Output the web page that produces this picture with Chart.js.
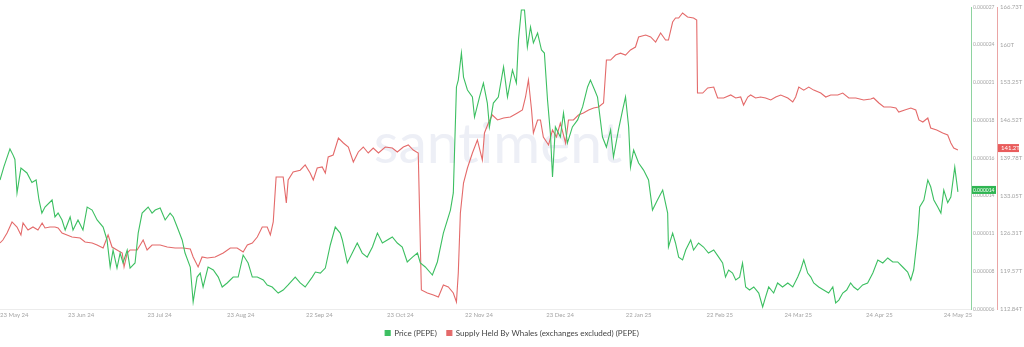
<!DOCTYPE html>
<html lang="en">
<head>
    <meta charset="UTF-8">
    <title>PEPE Price vs Whale Supply</title>
    <script src="https://cdn.jsdelivr.net/npm/chart.js"></script>
    <style>
        body { margin: 0; background: #fff; }
        #wrap { width: 1024px; height: 347px; }
    </style>
</head>
<body>
<div id="wrap"><canvas id="chart" width="1024" height="347"></canvas></div>
<script>
// x = days since 23 May 24
const xTickDays = [0, 31, 61, 92, 122, 153, 183, 214, 244, 275, 305, 336, 366, 371];
const xTickLabels = ['23 May 24', '23 Jun 24', '23 Jul 24', '23 Aug 24', '22 Sep 24', '23 Oct 24', '22 Nov 24',
    '23 Dec 24', '22 Jan 25', '22 Feb 25', '24 Mar 25', '24 Apr 25', '24 May 25', ''];

// price in millionths of a dollar (1.0 = 0.000001)
const priceDays = [0, 1.5, 3.8, 5, 5.7, 6.5, 8, 10.3, 12.2, 13.8, 14.9, 16, 17.2, 19.9, 21, 22.2, 23.7, 24.9, 26.8, 27.9,
    29.8, 31.7, 33.3, 35.2, 37.1, 39.4, 40.9, 42.1, 43.2, 44.7, 45.9, 47, 48.6, 49.7, 51.6, 52.8, 54.3, 56.6, 58.1, 59.3,
    61.2, 63.1, 65, 66.2, 67.7, 69.6, 70.7, 72.7, 73.8, 75.3, 76.5, 77.6, 79.5, 81.5, 83.4, 84.9, 86.8, 89.1, 91, 92.9,
    94.8, 96.4, 98.3, 100.6, 102.1, 104, 106.3, 108.2, 110.1, 112.8, 114.7, 116.6, 119.3, 120.5, 122.4, 124.3, 126.2, 128.1, 130, 130.8,
    132.7, 134.6, 136.5, 138.4, 140.3, 142.3, 144.2, 146.1, 148, 149.9, 151.8, 153.7, 155.6, 157.6, 159.5, 160.6, 162.5, 165.2, 167.1, 169.4,
    172.1, 173.2, 174.4, 175.1, 176.3, 177.1, 178.6, 180.5, 181.3, 183.2, 184.7, 186.2, 187, 188.5, 190.4, 192.4, 193.9, 195.8, 197.3, 198.1,
    199.2, 200.4, 201.5, 202.7, 203.8, 205.4, 206.9, 208, 209.2, 210.3, 211.1, 212.2, 214.1, 215.3, 216.8, 218.7, 220.7, 222.6, 224.5, 225.6,
    227.2, 228.3, 230.2, 231.7, 233.3, 234.4, 236.3, 237.9, 239, 240.2, 240.9, 242.1, 244, 245.9, 247.8, 249.3, 251.2, 253.2, 255.1, 255.4,
    257, 258.1, 259.3, 260.8, 262, 263.9, 265, 266.9, 268.8, 270.7, 272.7, 274.6, 276.1, 277.2, 278.4, 279.9, 281.1, 282.6, 283.7, 284.9,
    286.4, 288, 289.9, 291.4, 292.5, 293.7, 295.6, 297.1, 299, 301, 302.9, 304.8, 305.9, 307.1, 308.6, 309.8, 310.9, 312.8, 314.7, 316.6,
    318.2, 319.3, 320.5, 322, 323.5, 325, 326.2, 327.7, 329.6, 331.5, 333.5, 335.4, 337.3, 339.2, 341.1, 343, 344.9, 346.8, 348, 349.1,
    350.7, 351.4, 353, 354.5, 355.6, 356.8, 358.3, 359.5, 360.6, 362.1, 363.3, 364.8, 366];
const price = [14.77, 15.7, 16.93, 16.5, 16.2, 13.87, 15.6, 15.26, 14.6, 14.77, 13.38, 12.47, 12.89, 13.38, 12.2, 12.47, 11.99, 11.29, 12.2, 11.29,
    11.99, 11.29, 12.89, 12.68, 11.99, 11.5, 10.6, 8.72, 9.9, 8.65, 9.69, 9.0, 9.9, 8.65, 9.0, 11.08, 12.47, 12.89, 12.47, 12.68,
    12.82, 11.99, 12.47, 12.2, 11.5, 10.6, 9.69, 8.72, 6.29, 8.02, 8.3, 7.33, 8.72, 8.51, 8.02, 7.33, 7.61, 8.02, 8.02, 9.55,
    9.0, 8.02, 8.02, 7.82, 7.47, 7.33, 6.91, 7.12, 7.47, 8.02, 7.61, 7.33, 8.02, 8.37, 8.3, 8.65, 10.25, 11.5, 11.08, 10.6,
    9.0, 9.69, 10.39, 9.69, 9.41, 10.11, 11.08, 10.39, 10.6, 10.81, 10.39, 10.11, 9.07, 9.41, 9.69, 9.0, 8.72, 8.16, 9.07, 11.08,
    12.68, 13.87, 21.24, 21.72, 23.6, 21.93, 21.03, 20.54, 19.15, 20.54, 21.51, 20.12, 18.46, 20.12, 20.54, 22.63, 20.54, 22.42, 21.51, 24.51,
    26.59, 26.59, 24.02, 25.41, 24.3, 24.99, 23.81, 23.6, 20.33, 18.0, 14.98, 18.46, 17.76, 19.43, 17.34, 18.46, 18.95, 19.85, 21.24, 21.72,
    21.03, 20.54, 17.76, 17.06, 18.25, 16.37, 18.25, 19.64, 20.54, 18.46, 15.67, 16.86, 15.95, 15.46, 14.77, 12.68, 13.38, 14.07, 12.47, 10.11,
    11.08, 10.39, 9.41, 9.21, 9.9, 10.6, 9.9, 10.39, 10.11, 9.69, 9.9, 9.41, 9.0, 8.02, 8.51, 8.3, 7.82, 8.02, 9.0, 7.33,
    7.12, 7.33, 6.91, 5.94, 6.63, 7.33, 6.91, 7.61, 7.33, 7.61, 7.33, 8.02, 8.51, 9.21, 8.3, 8.02, 7.61, 7.33, 7.12, 6.91,
    7.33, 6.22, 6.42, 6.91, 7.12, 7.61, 7.33, 7.12, 7.47, 7.61, 8.3, 9.21, 9.0, 9.35, 9.07, 9.07, 8.72, 8.37, 7.82, 8.51,
    11.08, 12.89, 13.38, 14.77, 14.3, 13.38, 12.89, 12.47, 14.07, 13.2, 13.59, 15.67, 13.94];

// supply held by whales, trillions of PEPE
const supplyDays = [0, 1.1, 2.7, 4.6, 6.5, 8, 8.8, 10.7, 12.6, 14.5, 16.1, 17.2, 19.1, 21, 22.2, 23.7, 25.6, 27.5, 30.6, 32.5,
    35.2, 37.1, 39.4, 41.3, 42.8, 44.7, 46.7, 47.4, 48.6, 49.7, 52.4, 54.7, 56.2, 58.1, 61.2, 63.9, 66.9, 70, 72.7, 73.8,
    75.7, 77.2, 79.2, 82.2, 85.3, 88, 90.6, 92.9, 94.5, 96.4, 98.3, 100.2, 102.1, 103.3, 104.4, 105.5, 108.2, 109.4, 110.1, 112,
    114.7, 116.6, 118.5, 119.7, 121.2, 123.1, 124.3, 125.4, 127.3, 129.3, 131.2, 133.1, 135, 136.9, 138.8, 140.7, 142.6, 144.6, 147.2, 149.9,
    151.8, 154.1, 156, 157.9, 159.8, 161, 163.3, 165.6, 167.5, 169.4, 171.3, 173.2, 174.4, 175.1, 175.9, 177.1, 178.6, 180.5, 182.4, 184.3,
    185.1, 186.6, 188.1, 190.1, 192.4, 195, 197.7, 199.6, 200.8, 201.9, 203.1, 203.8, 205.4, 206.5, 207.6, 209.6, 211.1, 212.6, 214.1, 216.1,
    217.2, 219.1, 221, 222.9, 224.9, 226.8, 228.7, 230.6, 231.7, 233.3, 235.2, 237.1, 239, 240.9, 242.8, 244, 246.7, 248.6, 250.5, 252.4,
    254.3, 255.4, 257, 258.1, 259.3, 260.8, 262.7, 265, 266.2, 266.5, 268.5, 270.4, 272.7, 274.2, 276.5, 279.2, 281.1, 283, 284.1, 285.7,
    286.8, 288.7, 290.6, 292.5, 294.5, 296.4, 298.3, 301, 302.9, 304, 305.2, 307.1, 309, 310.9, 313.6, 315.5, 317.4, 320.1, 322, 324.3,
    327, 330, 332.7, 333.8, 335.8, 337.7, 340.3, 342.3, 343.4, 345.7, 348, 349.9, 351.1, 352.6, 354.5, 355.6, 357.9, 360.2, 362.1, 363.3,
    364.4, 366];
const supply = [124.62, 125.15, 126.4, 128.37, 127.47, 126.05, 128.19, 126.94, 127.47, 126.94, 128.19, 127.3, 127.47, 127.47, 127.3, 126.4, 126.05, 125.69, 125.5, 124.8,
    124.62, 124.26, 123.73, 126.05, 123.9, 123.37, 122.83, 120.34, 122.83, 123.37, 123.37, 125.15, 123.37, 124.26, 124.26, 123.9, 123.73, 123.73, 123.55, 122.12,
    120.34, 122.12, 121.94, 122.12, 122.83, 123.73, 123.73, 123.0, 124.26, 124.62, 125.69, 127.47, 127.47, 126.05, 128.37, 136.4, 136.4, 131.76, 135.86, 137.29,
    137.6, 138.54, 137.11, 135.86, 138.0, 138.2, 137.11, 139.96, 140.32, 143.35, 142.46, 141.75, 139.07, 140.86, 141.75, 140.68, 141.57, 140.68, 141.75, 141.57,
    140.86, 141.75, 142.11, 141.21, 140.68, 116.23, 115.7, 115.34, 114.98, 117.12, 116.77, 115.7, 114.09, 119.26, 129.97, 135.32, 138.0, 140.68, 143.0, 139.43,
    144.25, 146.03, 147.46, 146.57, 146.92, 147.1, 147.82, 148.35, 150.67, 153.7, 148.35, 144.25, 146.57, 146.57, 143.53, 142.11, 144.78, 143.53, 146.03, 142.46,
    146.57, 146.57, 147.46, 147.82, 148.35, 148.71, 148.89, 149.6, 157.27, 157.27, 158.16, 158.5, 158.16, 159.06, 159.59, 161.38, 161.73, 161.38, 160.48, 162.09,
    160.84, 160.84, 164.05, 164.77, 164.77, 165.66, 164.95, 164.77, 164.41, 151.38, 151.38, 152.28, 152.45, 150.49, 150.49, 151.03, 150.49, 150.67, 149.24, 150.67,
    151.03, 150.49, 150.67, 150.49, 150.14, 150.67, 151.03, 150.49, 149.78, 150.67, 152.45, 151.9, 152.45, 151.9, 151.38, 150.67, 151.03, 151.03, 151.38, 150.49,
    150.49, 150.14, 150.3, 150.49, 149.6, 148.89, 148.89, 148.71, 147.99, 148.35, 148.71, 148.35, 146.57, 146.2, 146.92, 145.14, 144.78, 144.25, 143.89, 142.46,
    141.57, 141.2];

const priceTickLabels = ['0.000006', '0.000008', '0.000011', '0.000014', '0.000016', '0.000018', '0.000021', '0.000024', '0.000027'];
const supplyTickLabels = ['112.84T', '119.57T', '126.31T', '133.05T', '139.78T', '146.52T', '153.25T', '160T', '166.73T'];
const priceMin = 5.8, priceMax = 26.8;
const supplyMin = 112.84, supplyMax = 166.73;

const GREEN = '#3cbf61';
const RED = '#e46a6a';
const TICK_COLOR = '#a5a5a5';

function evenTicks(labels, min, max) {
    return function (scale) {
        const step = (max - min) / (labels.length - 1);
        scale.ticks = labels.map((_, i) => ({ value: min + i * step }));
    };
}

// faint "santiment" watermark + last-value badges on the right axes
const extras = {
    id: 'extras',
    beforeDatasetsDraw(chart) {
        const { ctx } = chart;
        ctx.save();
        ctx.font = '400 57px Lato';
        ctx.fillStyle = 'rgba(110, 125, 185, 0.12)';
        ctx.textAlign = 'center';
        ctx.textBaseline = 'middle';
        ctx.fillText('santiment', 498, 145);
        ctx.restore();
    },
    afterDraw(chart) {
        const { ctx } = chart;
        const yP = chart.scales.yPrice, yS = chart.scales.ySupply;
        const lastP = price[price.length - 1], lastS = supply[supply.length - 1];
        ctx.save();
        ctx.textBaseline = 'middle';
        ctx.textAlign = 'left';
        let y = yS.getPixelForValue(lastS) - 2;
        ctx.font = '6px Lato';
        ctx.fillStyle = '#e95c5c';
        ctx.fillRect(yS.left + 1, y - 4, 21, 8);
        ctx.fillStyle = '#fff';
        ctx.fillText(lastS.toFixed(1) + 'T', yS.left + 4, y);
        y = yP.getPixelForValue(lastP) - 2;
        ctx.font = '5px Lato';
        ctx.fillStyle = '#2fb552';
        ctx.fillRect(yP.left + 1, y - 4, 24, 8);
        ctx.fillStyle = '#fff';
        ctx.fillText((lastP / 1e6).toFixed(6), yP.left + 2, y);
        ctx.restore();
    }
};

new Chart(document.getElementById('chart'), {
    type: 'line',
    data: {
        datasets: [{
            label: 'Price (PEPE)',
            data: priceDays.map((d, i) => ({ x: d, y: price[i] })),
            borderColor: GREEN,
            backgroundColor: GREEN,
            borderWidth: 1.1,
            pointRadius: 0,
            yAxisID: 'yPrice'
        }, {
            label: 'Supply Held By Whales (exchanges excluded) (PEPE)',
            data: supplyDays.map((d, i) => ({ x: d, y: supply[i] })),
            borderColor: RED,
            backgroundColor: RED,
            borderWidth: 1.1,
            pointRadius: 0,
            yAxisID: 'ySupply'
        }]
    },
    options: {
        responsive: false,
        animation: false,
        devicePixelRatio: 1,
        layout: { padding: { top: 7, left: 0, right: 0, bottom: 0 } },
        plugins: {
            tooltip: { enabled: false },
            legend: {
                position: 'bottom',
                labels: {
                    boxWidth: 5, boxHeight: 5, padding: 10,
                    color: '#444',
                    font: { family: 'Lato', size: 8 }
                }
            }
        },
        scales: {
            x: {
                type: 'linear',
                min: 0, max: 371,
                grid: { display: false, drawTicks: false },
                border: { display: true, color: '#ececec' },
                afterBuildTicks: s => { s.ticks = xTickDays.map(v => ({ value: v })); },
                afterFit: s => { s.height = 10; s.paddingLeft = 0; s.paddingRight = 0; },
                ticks: {
                    autoSkip: false, maxRotation: 0, align: 'inner', padding: 2,
                    color: TICK_COLOR, font: { family: 'Lato', size: 6 },
                    callback: (v, i) => xTickLabels[i]
                }
            },
            yPrice: {
                position: 'right',
                min: priceMin, max: priceMax,
                grid: { display: false, drawTicks: false },
                border: { display: true, color: '#8ed3a0' },
                afterBuildTicks: evenTicks(priceTickLabels, priceMin, priceMax),
                afterFit: s => { s.width = 26; },
                ticks: {
                    padding: 2, color: TICK_COLOR, font: { family: 'Lato', size: 5 },
                    callback: (v, i) => priceTickLabels[i]
                }
            },
            ySupply: {
                position: 'right',
                min: supplyMin, max: supplyMax,
                grid: { display: false, drawTicks: false },
                border: { display: true, color: '#eaa5a5' },
                afterBuildTicks: evenTicks(supplyTickLabels, supplyMin, supplyMax),
                afterFit: s => { s.width = 27; },
                ticks: {
                    padding: 3, color: TICK_COLOR, font: { family: 'Lato', size: 6 },
                    callback: (v, i) => supplyTickLabels[i]
                }
            }
        }
    },
    plugins: [extras]
});
</script>
</body>
</html>
